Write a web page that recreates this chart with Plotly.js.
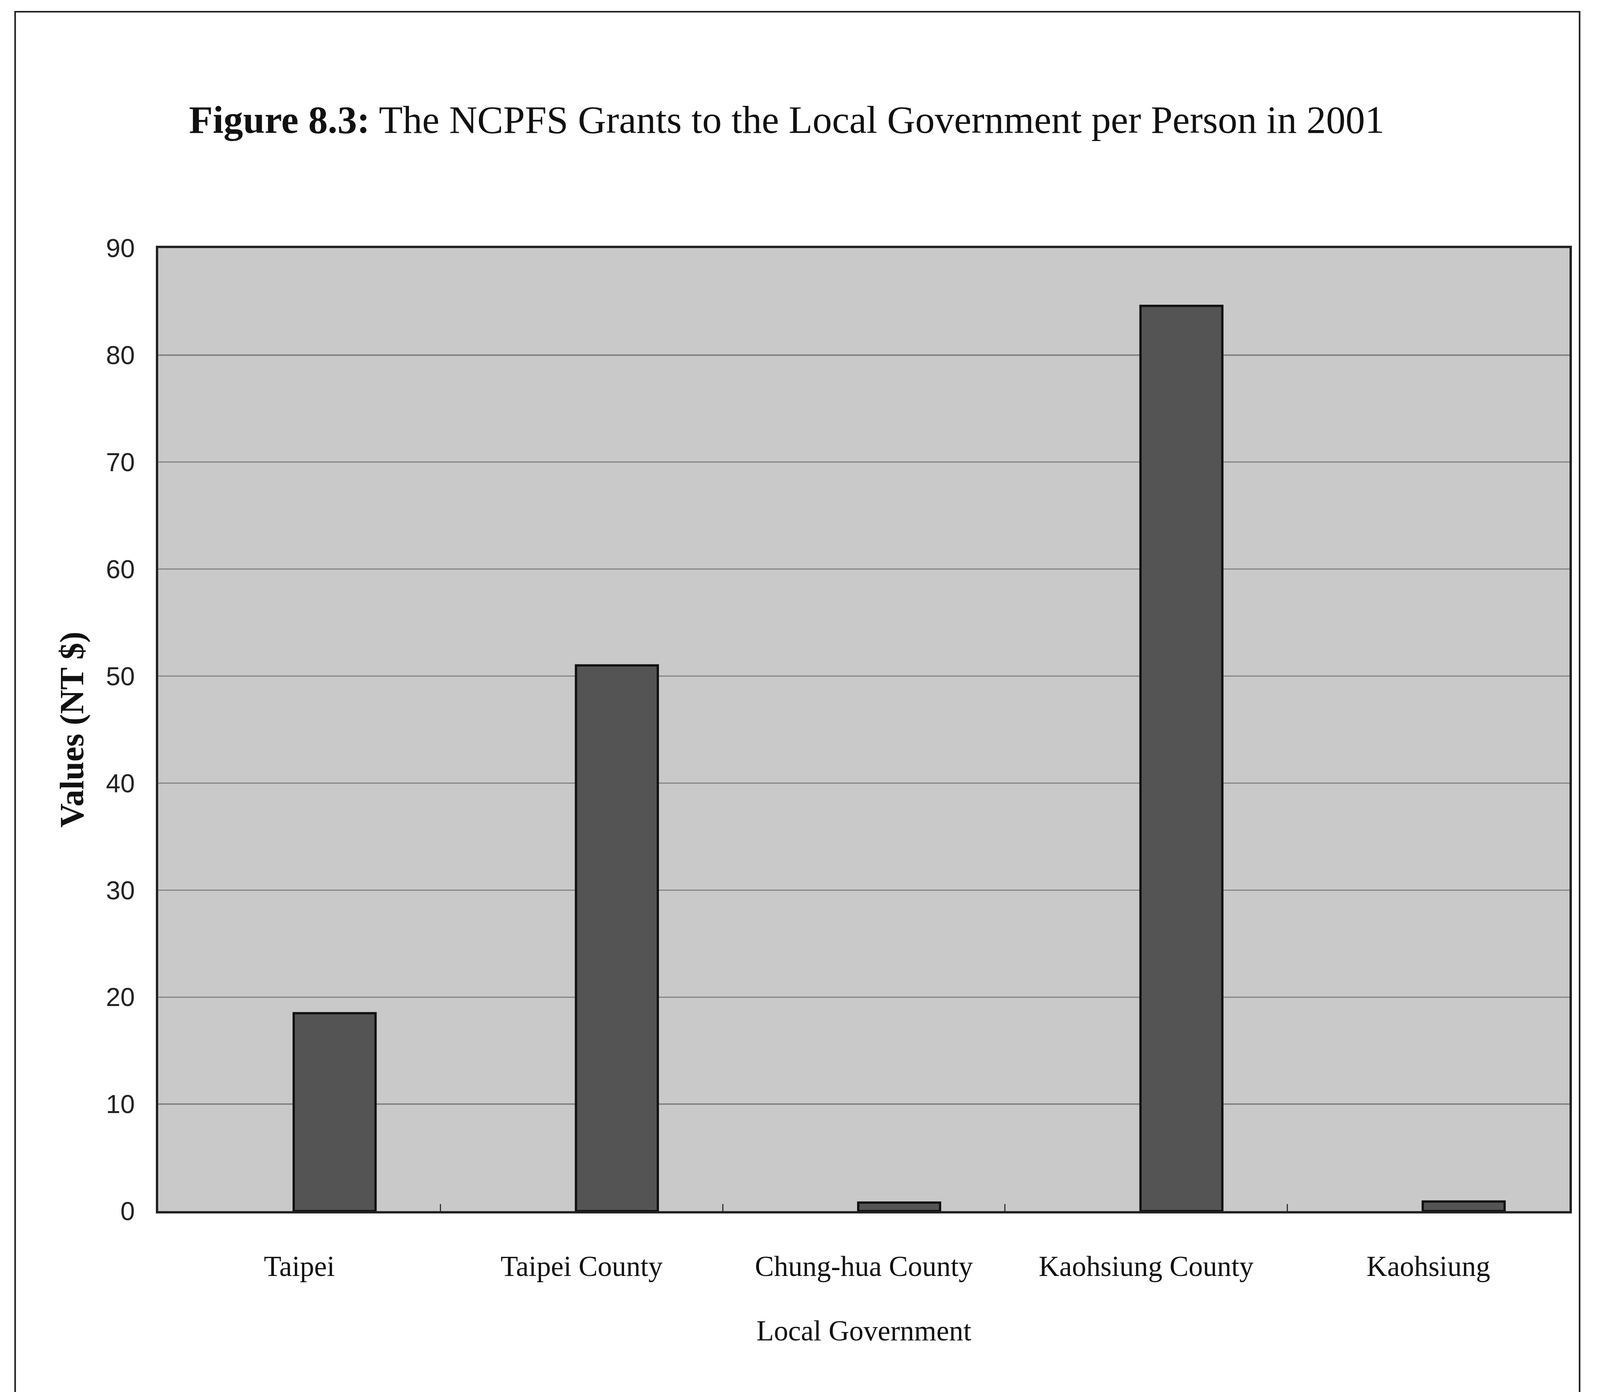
<!DOCTYPE html>
<html><head><meta charset="utf-8">
<script src="https://cdn.plot.ly/plotly-3.0.1.min.js"></script>
<style>html,body{margin:0;padding:0;background:#fff;overflow:hidden}#chart{width:100vw;height:100vh}</style>
</head><body><div id="chart"></div>
<script>
const categories = ["Taipei", "Taipei County", "Chung-hua County", "Kaohsiung County", "Kaohsiung"];
const values = [18.5, 51, 0.8, 84.6, 0.9];
const yTickValues = [0, 10, 20, 30, 40, 50, 60, 70, 80, 90];
const chartTitle = "<b>Figure 8.3:</b> The NCPFS Grants to the Local Government per Person in 2001";
const xTitle = "Local Government";
const yTitle = "<b>Values (NT $)</b>";

const W = window.innerWidth, H = window.innerHeight;
const sx = W / 4932, sy = H / 3563, s = Math.min(sx, sy);
const L = 488 * sx, R = 4838 * sx, T = 635 * sy, B = 3100 * sy;

const trace = {
  type: 'bar', x: categories, y: values, width: 0.29, offset: -0.02,
  marker: {color: '#545454', line: {color: '#111111', width: 7 * s}},
  hoverinfo: 'x+y'
};

const layout = {
  width: W, height: H,
  paper_bgcolor: '#ffffff', plot_bgcolor: '#c9c9c9',
  margin: {l: L, r: W - R, t: T, b: H - B, pad: 0},
  showlegend: false,
  title: {
    text: chartTitle,
    font: {family: 'Liberation Serif', size: 120 * s, color: '#111111'},
    xref: 'container', yref: 'container',
    x: 2425 / 4932, xanchor: 'center', y: 1 - 305 / 3563, yanchor: 'middle'
  },
  xaxis: {
    type: 'category', range: [-0.5, 4.5], showgrid: false,
    showline: true, linecolor: '#222222', linewidth: 7 * s, mirror: true,
    ticks: 'inside', tickson: 'boundaries', ticklen: 22 * s, tickwidth: 4 * s, tickcolor: '#333333',
    ticklabelstandoff: 72 * sy,
    tickfont: {family: 'Liberation Serif', size: 88 * s, color: '#111111'},
    title: {text: xTitle, font: {family: 'Liberation Serif', size: 88 * s, color: '#111111'}, standoff: 101 * sy},
    automargin: false, fixedrange: true
  },
  yaxis: {
    range: [0, 90], tickvals: yTickValues, ticktext: yTickValues.map(String),
    showgrid: true, gridcolor: '#858585', gridwidth: 4 * s, zeroline: false,
    showline: true, linecolor: '#222222', linewidth: 7 * s, mirror: true,
    ticks: 'outside', ticklen: 49 * sx, tickwidth: 1, tickcolor: 'rgba(0,0,0,0)',
    tickfont: {family: 'Liberation Sans', size: 80 * s, color: '#222222'},
    title: {text: yTitle, font: {family: 'Liberation Serif', size: 86 * sy, color: '#111111'}, standoff: 37 * sx},
    automargin: false, fixedrange: true
  },
  shapes: [{
    type: 'rect', xref: 'paper', yref: 'paper',
    x0: (47 - 488) / (4838 - 488), x1: (4869 - 488) / (4838 - 488),
    y0: (3100 - 3620) / (3100 - 635), y1: (3100 - 30) / (3100 - 635),
    line: {color: '#222222', width: 5 * s}, fillcolor: 'rgba(0,0,0,0)', layer: 'below'
  }]
};

Plotly.newPlot('chart', [trace], layout, {displayModeBar: false, staticPlot: true});
</script>
</body></html>
